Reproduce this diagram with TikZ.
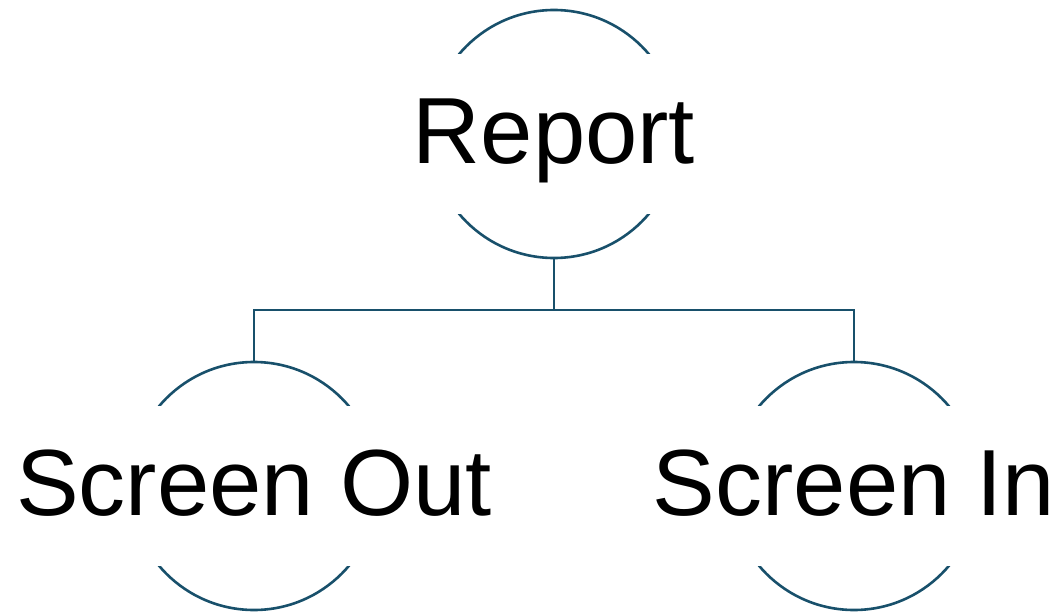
\documentclass[tikz,border=0pt]{standalone}
\usepackage{fontspec}
\setmainfont{Liberation Sans}
\usetikzlibrary{positioning, calc}
\definecolor{treeblue}{HTML}{18506B}
\tikzset{%
	ring/.style={draw=treeblue, line width=2.6pt, circle, minimum size=248pt, inner sep=0pt},
	title/.style={fill=white, inner sep=0pt, text height=109pt, text depth=51pt,%
		font=\fontsize{94}{94}\selectfont},
	connector/.style={draw=treeblue, line width=2.6pt}
}
\begin{document}
\begin{tikzpicture}[node distance=352pt and 300pt, on grid]
	\useasboundingbox (-554pt,134pt) rectangle (505pt,-479pt);
	\node[ring] (report) at (0,0) {};
	\node[ring] (scr-out) [below left=of report] {};
	\node[ring] (scr-in) [below right=of report] {};
	\node[title] (report-t) at (report.center) {Report};
	\node[title] (scr-out-t) at (scr-out.center) {Screen Out};
	\node[title] (scr-in-t) at (scr-in.center) {Screen In};
	\coordinate (fork) at ($(report.south)!0.5!(report.south |- scr-out.north)$);
	\draw [connector] (report.south) -- (fork) -| (scr-out.north);
	\draw [connector] (fork) -| (scr-in.north);
\end{tikzpicture}
\end{document}
